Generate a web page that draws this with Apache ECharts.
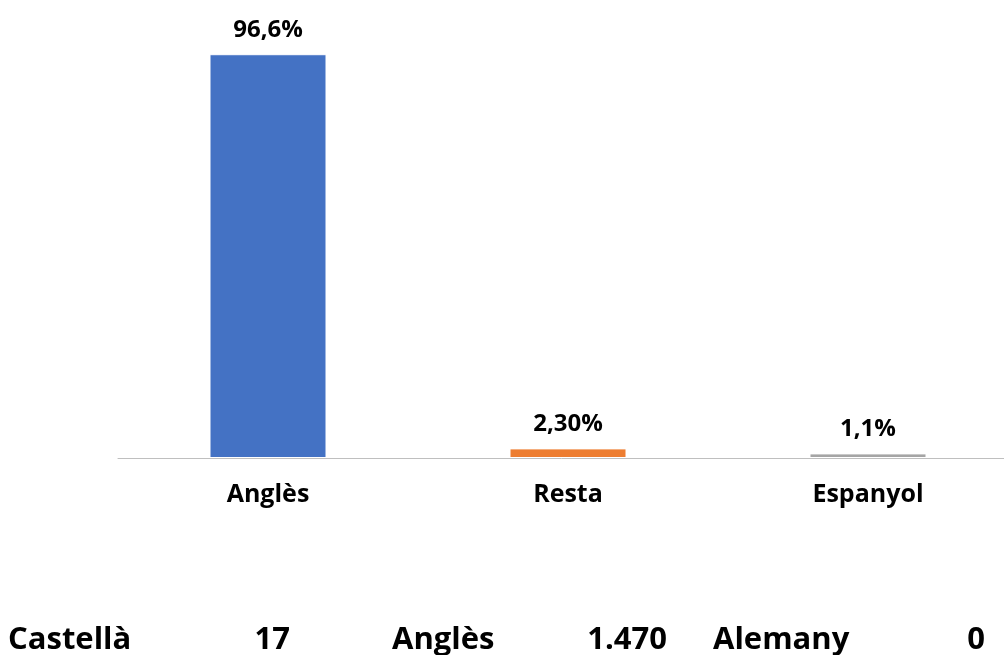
<!DOCTYPE html>
<html>
<head>
<meta charset="utf-8">
<script src="https://cdn.jsdelivr.net/npm/echarts@6/dist/echarts.min.js"></script>
<style>html,body{margin:0;padding:0;background:#fff;}#c{width:1004px;height:655px;}</style>
</head>
<body>
<div id="c"></div>
<script>
const categories = ['Anglès', 'Resta', 'Espanyol'];
const values = [96.6, 2.3, 1.1];
const valueLabels = ['96,6%', '2,30%', '1,1%'];
const colors = ['#4472C4', '#ED7D31', '#A5A5A5'];
const tableLabels = ['Castellà', 'Anglès', 'Alemany'];
const tableValues = ['17', '1.470', '0'];

const chart = echarts.init(document.getElementById('c'));
const font = '"Open Sans", "Noto Sans", sans-serif';
const labelX = [8, 392, 713];
const valueX = [290, 667, 985];
const graphics = [];
tableLabels.forEach((t, i) => {
  graphics.push({type: 'text', x: labelX[i], y: 625, style: {text: t, font: 'bold 31px ' + font, fill: '#000', align: 'left', verticalAlign: 'top'}});
});
tableValues.forEach((t, i) => {
  graphics.push({type: 'text', x: valueX[i], y: 625, style: {text: t, font: 'bold 31px ' + font, fill: '#000', align: 'right', verticalAlign: 'top'}});
});

chart.setOption({
  animation: false,
  grid: {left: 118, width: 900, top: 40, bottom: 197, outerBoundsMode: 'none', containLabel: false},
  xAxis: {
    type: 'category',
    data: categories,
    axisLine: {lineStyle: {color: '#BFBFBF', width: 1}},
    axisTick: {show: false},
    axisLabel: {color: '#000', fontFamily: font, fontWeight: 'bold', fontSize: 25, margin: 24}
  },
  yAxis: {type: 'value', min: 0, max: 100, show: false, splitLine: {show: false}},
  series: [{
    type: 'bar',
    barWidth: 117,
    data: values.map((v, i) => ({value: v, itemStyle: {color: colors[i]}})),
    itemStyle: {borderColor: '#fff', borderWidth: 1},
    label: {
      show: true, position: 'top', distance: 12,
      fontFamily: font, fontWeight: 'bold', fontSize: 24, color: '#000',
      formatter: p => valueLabels[p.dataIndex]
    }
  }],
  graphic: graphics
});
</script>
</body>
</html>
